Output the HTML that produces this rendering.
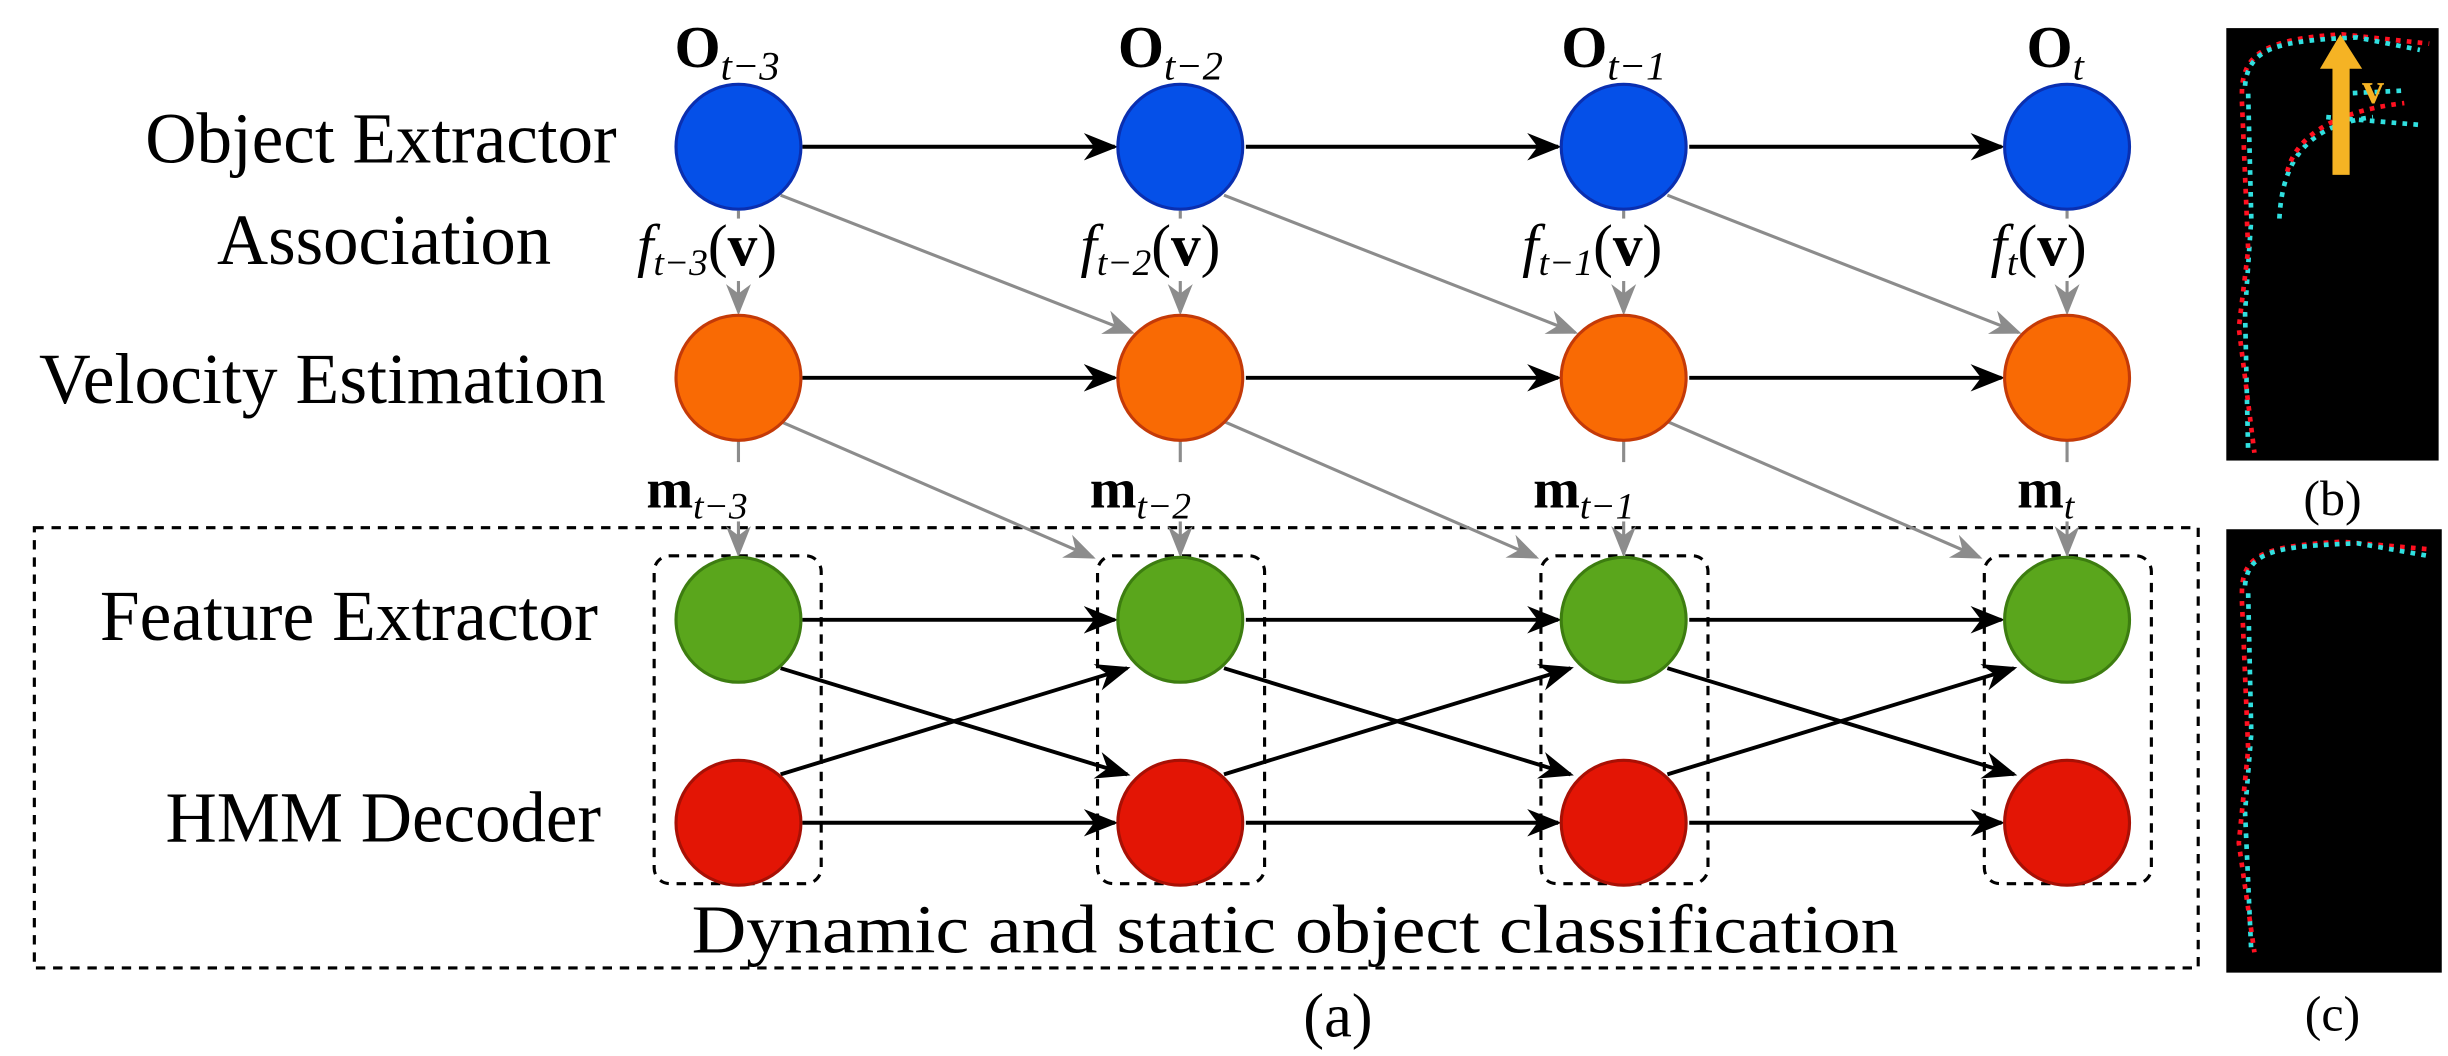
<!DOCTYPE html>
<html><head><meta charset="utf-8"><style>
html,body{margin:0;padding:0;background:#fff}
svg{display:block}
text{font-family:"Liberation Serif",serif;fill:#000}
</style></head><body>
<svg width="2448" height="1056" viewBox="0 0 1568 676.4" preserveAspectRatio="none">
<defs>
<marker id="ag" viewBox="0 0 10 10" refX="9" refY="5" markerWidth="20" markerHeight="20" markerUnits="userSpaceOnUse" orient="auto"><path d="M0,1 L10,5 L0,9 L3,5z" fill="#8c8c8c"/></marker>
<marker id="ak" viewBox="0 0 10 10" refX="9" refY="5" markerWidth="22" markerHeight="22" markerUnits="userSpaceOnUse" orient="auto"><path d="M0,1 L10,5 L0,9 L3,5z" fill="#000"/></marker>
</defs>
<!-- left labels -->
<g font-size="46" lengthAdjust="spacingAndGlyphs">
<text x="93" y="104" textLength="302" lengthAdjust="spacingAndGlyphs">Object Extractor</text>
<text x="139" y="169" textLength="214" lengthAdjust="spacingAndGlyphs">Association</text>
<text x="25" y="258" textLength="363" lengthAdjust="spacingAndGlyphs">Velocity Estimation</text>
<text x="64" y="410" textLength="319" lengthAdjust="spacingAndGlyphs">Feature Extractor</text>
<text x="106" y="539" textLength="279" lengthAdjust="spacingAndGlyphs">HMM Decoder</text>
</g>
<!-- big dashed box -->
<rect x="22" y="338" width="1386" height="282" fill="none" stroke="#000" stroke-width="2" stroke-dasharray="6,5"/>
<g fill="none" stroke="#000" stroke-width="2" stroke-dasharray="6,5">
<rect x="419" y="356" width="107" height="210" rx="10"/>
<rect x="703" y="356" width="107" height="210" rx="10"/>
<rect x="987" y="356" width="107" height="210" rx="10"/>
<rect x="1271" y="356" width="107" height="210" rx="10"/>
</g>
<text x="443" y="610" font-size="44" textLength="773" lengthAdjust="spacingAndGlyphs">Dynamic and static object classification</text>
<text x="857" y="664" font-size="40" text-anchor="middle">(a)</text>
<!-- gray verticals -->
<g stroke="#8c8c8c" stroke-width="2" fill="none" marker-end="url(#ag)">
<line x1="473" y1="135" x2="473" y2="200"/><line x1="756" y1="135" x2="756" y2="200"/><line x1="1040" y1="135" x2="1040" y2="200"/><line x1="1324" y1="135" x2="1324" y2="200"/>
<line x1="473" y1="282" x2="473" y2="355"/><line x1="756" y1="282" x2="756" y2="355"/><line x1="1040" y1="282" x2="1040" y2="355"/><line x1="1324" y1="282" x2="1324" y2="355"/>
<line x1="500" y1="125" x2="725" y2="213"/><line x1="784" y1="125" x2="1009" y2="213"/><line x1="1068" y1="125" x2="1293" y2="213"/>
<line x1="500" y1="270" x2="700" y2="357"/><line x1="784" y1="270" x2="984" y2="357"/><line x1="1068" y1="270" x2="1268" y2="357"/>
</g>
<g fill="#fff"><rect x="405" y="140" width="120" height="40"/><rect x="690" y="140" width="120" height="40"/><rect x="972" y="140" width="120" height="40"/><rect x="1272" y="140" width="110" height="40"/>
<rect x="412" y="296" width="95" height="38"/><rect x="696" y="296" width="95" height="38"/><rect x="980" y="296" width="95" height="38"/><rect x="1290" y="296" width="60" height="38"/></g>
<!-- black arrows -->
<g stroke="#000" stroke-width="2.5" fill="none" marker-end="url(#ak)">
<line x1="514" y1="94" x2="714" y2="94"/><line x1="798" y1="94" x2="998" y2="94"/><line x1="1082" y1="94" x2="1282" y2="94"/>
<line x1="514" y1="242" x2="714" y2="242"/><line x1="798" y1="242" x2="998" y2="242"/><line x1="1082" y1="242" x2="1282" y2="242"/>
<line x1="514" y1="397" x2="714" y2="397"/><line x1="798" y1="397" x2="998" y2="397"/><line x1="1082" y1="397" x2="1282" y2="397"/>
<line x1="514" y1="527" x2="714" y2="527"/><line x1="798" y1="527" x2="998" y2="527"/><line x1="1082" y1="527" x2="1282" y2="527"/>
<line x1="500" y1="428" x2="722" y2="496"/><line x1="784" y1="428" x2="1006" y2="496"/><line x1="1068" y1="428" x2="1290" y2="496"/>
<line x1="500" y1="496" x2="722" y2="428"/><line x1="784" y1="496" x2="1006" y2="428"/><line x1="1068" y1="496" x2="1290" y2="428"/>
</g>
<!-- nodes -->
<g stroke-width="2">
<g fill="#0550e8" stroke="#0a2fb0"><circle cx="473" cy="94" r="40"/><circle cx="756" cy="94" r="40"/><circle cx="1040" cy="94" r="40"/><circle cx="1324" cy="94" r="40"/></g>
<g fill="#f96a04" stroke="#c43a08"><circle cx="473" cy="242" r="40"/><circle cx="756" cy="242" r="40"/><circle cx="1040" cy="242" r="40"/><circle cx="1324" cy="242" r="40"/></g>
<g fill="#5aa61c" stroke="#3d7d10"><circle cx="473" cy="397" r="40"/><circle cx="756" cy="397" r="40"/><circle cx="1040" cy="397" r="40"/><circle cx="1324" cy="397" r="40"/></g>
<g fill="#e31505" stroke="#a81005"><circle cx="473" cy="527" r="40"/><circle cx="756" cy="527" r="40"/><circle cx="1040" cy="527" r="40"/><circle cx="1324" cy="527" r="40"/></g>
</g>
<!-- top labels -->
<g font-size="38" font-weight="bold">
<text x="432" y="43">O<tspan font-size="26" font-weight="normal" font-style="italic" dy="8">t−3</tspan></text>
<text x="716" y="43">O<tspan font-size="26" font-weight="normal" font-style="italic" dy="8">t−2</tspan></text>
<text x="1000" y="43">O<tspan font-size="26" font-weight="normal" font-style="italic" dy="8">t−1</tspan></text>
<text x="1298" y="43">O<tspan font-size="26" font-weight="normal" font-style="italic" dy="8">t</tspan></text>
</g>
<g font-size="38">
<text x="408" y="170"><tspan font-style="italic">f</tspan><tspan font-size="24" font-style="italic" dy="6">t−3</tspan><tspan dy="-6">(</tspan><tspan font-weight="bold">v</tspan>)</text>
<text x="692" y="170"><tspan font-style="italic">f</tspan><tspan font-size="24" font-style="italic" dy="6">t−2</tspan><tspan dy="-6">(</tspan><tspan font-weight="bold">v</tspan>)</text>
<text x="975" y="170"><tspan font-style="italic">f</tspan><tspan font-size="24" font-style="italic" dy="6">t−1</tspan><tspan dy="-6">(</tspan><tspan font-weight="bold">v</tspan>)</text>
<text x="1275" y="170"><tspan font-style="italic">f</tspan><tspan font-size="24" font-style="italic" dy="6">t</tspan><tspan dy="-6">(</tspan><tspan font-weight="bold">v</tspan>)</text>
</g>
<g font-size="36" font-weight="bold">
<text x="414" y="325">m<tspan font-size="24" font-weight="normal" font-style="italic" dy="7">t−3</tspan></text>
<text x="698" y="325">m<tspan font-size="24" font-weight="normal" font-style="italic" dy="7">t−2</tspan></text>
<text x="982" y="325">m<tspan font-size="24" font-weight="normal" font-style="italic" dy="7">t−1</tspan></text>
<text x="1292" y="325">m<tspan font-size="24" font-weight="normal" font-style="italic" dy="7">t</tspan></text>
</g>
<!-- right panels -->
<rect x="1426" y="18" width="136" height="277" fill="#000"/>
<rect x="1426" y="339" width="138" height="284" fill="#000"/>
<g fill="none" stroke-width="3" stroke-dasharray="3,4">
<path d="M1436,60 C1436,35 1450,25 1500,22 L1556,28" stroke="#ff1020"/>
<path d="M1438,55 C1440,30 1460,26 1510,24 L1550,32" stroke="#30e0e0"/>
<path d="M1440,60 L1442,140 L1438,200 L1440,290" stroke="#30e0e0"/>
<path d="M1436,65 L1440,160 L1434,210 L1444,290" stroke="#ff1020"/>
<path d="M1460,140 C1462,100 1480,80 1520,75" stroke="#30e0e0"/>
<path d="M1465,110 C1470,90 1490,72 1540,66" stroke="#ff1020"/>
<path d="M1500,60 L1540,58 M1490,75 L1550,80" stroke="#30e0e0"/>
<path d="M1436,380 C1436,355 1450,350 1500,347 L1558,352" stroke="#ff1020"/>
<path d="M1438,375 C1440,352 1460,350 1510,348 L1555,356" stroke="#30e0e0"/>
<path d="M1440,380 L1442,470 L1438,520 L1442,610" stroke="#30e0e0"/>
<path d="M1436,385 L1440,480 L1434,540 L1444,610" stroke="#ff1020"/>
</g>
<rect x="1494" y="42" width="11" height="70" fill="#f5b324"/>
<path d="M1486,44 L1499,22 L1513,44z" fill="#f5b324"/>
<text x="1513" y="66" font-size="28" font-weight="bold" style="fill:#f5b324" font-family="Liberation Sans,sans-serif">v</text>
<text x="1494" y="330" font-size="32" text-anchor="middle">(b)</text>
<text x="1494" y="660" font-size="32" text-anchor="middle">(c)</text>
</svg>
</body></html>
